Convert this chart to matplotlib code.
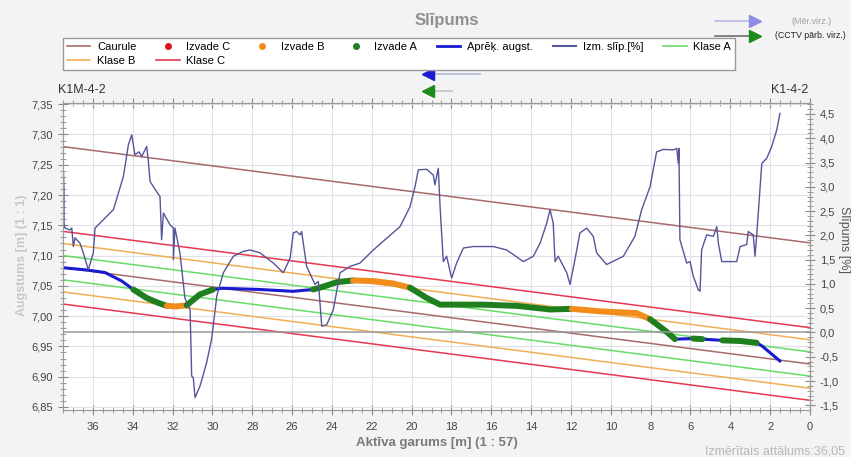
import numpy as np
import matplotlib
matplotlib.use("Agg")
import matplotlib.pyplot as plt
from matplotlib.lines import Line2D
from matplotlib.ticker import MultipleLocator, FuncFormatter

plt.rcParams['font.family'] = ['Liberation Sans', 'DejaVu Sans']

# pipe (invert level) along the active length, diameter 0.2 m
pipe_x = [37.5, 0.0]
pipe_invert = [7.080, 6.921]
pipe_diam = 0.20
# tolerance bands around the invert
klase_offsets = {'A': 0.02, 'B': 0.04, 'C': 0.06}

# calculated level (Aprēķ. augst.)
calc_x = [37.50, 36.24, 35.39, 34.55, 33.97, 33.30, 32.73, 32.29, 31.83, 31.29,
          30.62, 29.97, 29.51, 27.61, 25.95, 24.95, 24.60, 23.76, 22.94, 21.94,
          20.93, 20.08, 19.24, 18.57, 16.42, 14.72, 13.05, 11.96, 10.54, 8.70,
          8.03, 7.19, 6.78, 5.87, 5.40, 4.40, 3.51, 2.68, 2.42, 1.51]
calc_y = [7.080, 7.076, 7.072, 7.058, 7.044, 7.030, 7.022, 7.017, 7.016, 7.018,
          7.036, 7.044, 7.046, 7.044, 7.041, 7.044, 7.047, 7.056, 7.059, 7.058,
          7.054, 7.047, 7.030, 7.019, 7.019, 7.017, 7.011, 7.012, 7.008, 7.005,
          6.995, 6.974, 6.962, 6.963, 6.962, 6.960, 6.959, 6.956, 6.951, 6.926]

# deviation segments (Izvade A / B)
seg_start = [33.97, 32.29, 31.29, 24.95, 22.94, 20.08, 11.96, 8.03, 5.87, 4.40]
seg_end = [32.29, 31.29, 29.97, 22.94, 20.08, 11.96, 8.03, 6.78, 5.40, 2.68]
seg_class = ['A', 'B', 'A', 'A', 'B', 'A', 'B', 'A', 'A', 'A']

# measured slope [%]
slope_x = [37.48, 37.45, 37.45, 37.40, 37.15, 37.06, 36.98, 36.90, 36.65, 36.48,
           36.23, 35.98, 35.89, 35.48, 34.97, 34.47, 34.22, 34.05, 33.89, 33.68,
           33.55, 33.30, 33.22, 33.13, 32.80, 32.63, 32.55, 32.46, 32.13, 31.96,
           31.96, 31.88, 31.63, 31.38, 31.12, 31.04, 30.96, 30.87, 30.62, 30.29,
           30.04, 29.78, 29.45, 28.95, 28.45, 28.11, 27.61, 26.94, 26.44, 26.10,
           25.94, 25.77, 25.60, 25.52, 25.27, 24.85, 24.68, 24.51, 24.26, 23.93,
           23.59, 23.09, 22.59, 21.92, 21.25, 20.58, 20.08, 19.83, 19.66, 19.24,
           18.91, 18.83, 18.66, 18.57, 18.41, 18.24, 17.99, 17.74, 17.40, 16.90,
           15.90, 15.23, 14.39, 13.89, 13.55, 13.22, 13.05, 12.89, 12.80, 12.64,
           12.21, 12.05, 11.80, 11.55, 11.21, 10.88, 10.71, 10.21, 9.37, 8.79,
           8.45, 8.03, 7.70, 7.36, 6.86, 6.69, 6.61, 6.58, 6.53, 6.19,
           6.02, 5.86, 5.61, 5.52, 5.44, 5.19, 4.85, 4.68, 4.60, 4.43,
           3.68, 3.51, 3.18, 3.10, 2.85, 2.76, 2.68, 2.42, 2.17, 1.92,
           1.67, 1.51]
slope_v = [3.31, 2.94, 2.26, 2.15, 2.11, 2.15, 1.77, 1.95, 1.84, 1.64,
           1.29, 1.64, 2.15, 2.32, 2.53, 3.21, 3.86, 4.07, 3.66, 3.72,
           3.62, 3.83, 3.55, 3.11, 2.90, 2.80, 1.91, 2.46, 2.22, 2.15,
           1.50, 2.15, 1.64, 0.71, 0.47, -0.90, -0.93, -1.34, -1.10, -0.62,
           -0.14, 0.75, 1.23, 1.57, 1.67, 1.70, 1.64, 1.43, 1.23, 1.53,
           2.05, 2.08, 2.01, 2.08, 1.36, 0.99, 1.05, 0.13, 0.16, 0.47,
           1.23, 1.36, 1.43, 1.70, 1.94, 2.18, 2.59, 3.00, 3.35, 3.36,
           3.24, 3.04, 3.38, 2.59, 1.46, 1.57, 1.12, 1.43, 1.74, 1.77,
           1.77, 1.70, 1.46, 1.57, 1.84, 2.25, 2.53, 2.25, 1.46, 1.57,
           1.23, 0.99, 1.50, 2.05, 2.15, 1.98, 1.64, 1.40, 1.57, 1.98,
           2.53, 3.00, 3.72, 3.77, 3.76, 3.79, 3.48, 3.79, 1.91, 1.43,
           1.46, 1.16, 0.88, 0.85, 1.70, 2.01, 1.98, 2.18, 1.84, 1.46,
           1.46, 1.77, 1.81, 2.08, 2.01, 1.57, 1.98, 3.48, 3.59, 3.83,
           4.17, 4.51]

c_caurule = '#a86a6a'
c_klase = {'A': '#66dd66', 'B': '#f2ae55', 'C': '#e8384f'}
c_izvade = {'A': '#1f7f1f', 'B': '#f28c1a', 'C': '#e01020'}
c_aprek = '#1a1ad0'
c_slope = '#55559a'

fig = plt.figure(figsize=(8.51, 4.57), dpi=100, facecolor='#f3f3f3')
W, H = 851, 457
ax = fig.add_axes([63 / W, 1 - 410 / H, (810 - 63) / W, (410 - 103) / H])
ax.set_facecolor('white')

invert = np.array(pipe_invert)
for k in ['C', 'B', 'A']:
    off = klase_offsets[k]
    ax.plot(pipe_x, invert + off, color=c_klase[k], lw=1.1)
    ax.plot(pipe_x, invert - off, color=c_klase[k], lw=1.1)
ax.plot(pipe_x, invert, color=c_caurule, lw=1.1)
ax.plot(pipe_x, invert + pipe_diam, color=c_caurule, lw=1.1)

ax.plot(calc_x, calc_y, color=c_aprek, lw=2.2, zorder=4)
cx = np.array(calc_x)
cy = np.array(calc_y)
for s, e, k in zip(seg_start, seg_end, seg_class):
    m = (cx <= s) & (cx >= e)
    ax.plot(cx[m], cy[m], color=c_izvade[k], lw=4.3, solid_capstyle='round', zorder=5)

ax.set_xlim(37.5, 0)
ax.set_ylim(6.845, 7.352)
ax.xaxis.set_major_locator(MultipleLocator(2))
ax.xaxis.set_minor_locator(MultipleLocator(0.5))
ax.yaxis.set_major_locator(MultipleLocator(0.05))
ax.yaxis.set_minor_locator(MultipleLocator(0.01))
ax.yaxis.set_major_formatter(FuncFormatter(lambda v, _: f"{v:.2f}".replace('.', ',')))
ax.grid(True, which='major', color='#dfe0e8', lw=0.8)
ax.set_axisbelow(True)
ax.tick_params(which='both', direction='inout', color='#8a8a8a', labelsize=8,
               labelcolor='#444444', top=True)
ax.tick_params(which='major', length=7)
ax.tick_params(which='minor', length=4)
ax.tick_params(axis='x', pad=5)

ax2 = ax.twinx()
ax2.set_ylim((6.845 - 6.973) / 0.0802, (7.352 - 6.973) / 0.0802)
ax2.axhline(0, color='#9a9a9a', lw=1.1, zorder=1)
ax2.plot(slope_x, slope_v, color=c_slope, lw=1.0)
ax2.yaxis.set_major_locator(MultipleLocator(0.5))
ax2.yaxis.set_minor_locator(MultipleLocator(0.1))
ax2.yaxis.set_major_formatter(FuncFormatter(
    lambda v, _: f"{0.0 if abs(v) < 1e-9 else v:.1f}".replace('.', ',')))
ax2.tick_params(which='both', direction='inout', color='#8a8a8a', labelsize=8,
                labelcolor='#444444')
ax2.tick_params(which='major', length=7)
ax2.tick_params(which='minor', length=4)

for a in (ax, ax2):
    for sp in a.spines.values():
        sp.set_color('#9a9a9a')

ax.set_xlabel('Aktīva garums [m] (1 : 57)', fontsize=9.5, fontweight='bold',
              color='#7a7a7a', labelpad=4)
fig.text(22 / W, 1 - 255 / H, 'Augstums [m] (1 : 1)', rotation=90, fontsize=9,
         fontweight='bold', color='#c8c8c8', ha='center', va='center')
fig.text(844 / W, 1 - 240 / H, 'Slīpums [%]', rotation=270, fontsize=9,
         color='#555555', ha='center', va='center')

fig.text(447 / W, 1 - 20 / H, 'Slīpums', fontsize=12, fontweight='bold',
         color='#8f8f8f', ha='center', va='center')
fig.text(58 / W, 1 - 90 / H, 'K1M-4-2', fontsize=9, color='#333333', va='center')
fig.text(808 / W, 1 - 90 / H, 'K1-4-2', fontsize=9, color='#333333', va='center', ha='right')
fig.text(705 / W, 2 / H, 'Izmērītais attālums:36,05', fontsize=9, color='#b8b8b8')


def px(x, y):
    return x / W, 1 - y / H


def arrow(x0, x1, y, line_c, head_c, head):
    (a0, b0), (a1, b1) = px(x0, y), px(x1, y)
    fig.add_artist(Line2D([a0, a1], [b0, b1], color=line_c, lw=1.2,
                          transform=fig.transFigure))
    hx = a1 if head == '>' else a0
    fig.add_artist(Line2D([hx], [b0], marker=head, ms=8, color=head_c, lw=0,
                          transform=fig.transFigure))


arrow(715, 755, 21, '#b8b8e8', '#8c8ce6', '>')
arrow(715, 755, 36, '#707070', '#1c8a1c', '>')
arrow(428, 480, 74, '#b0b8d8', '#1a1ad0', '<')
arrow(428, 452, 91, '#b8c8b8', '#1c8a1c', '<')
fig.text(792 / W, 1 - 21 / H, '(Mēr.virz.)', fontsize=6.5, color='#a0a0a0', va='center')
fig.text(775 / W, 1 - 36 / H, '(CCTV pārb. virz.)', fontsize=6.3, color='#222222', va='center')

# legend (column-major order so rows read left to right)
h = {
    'Caurule': Line2D([], [], color=c_caurule, lw=1.2),
    'Izvade C': Line2D([], [], color=c_izvade['C'], marker='o', ms=4, lw=0),
    'Izvade B': Line2D([], [], color=c_izvade['B'], marker='o', ms=4, lw=0),
    'Izvade A': Line2D([], [], color=c_izvade['A'], marker='o', ms=4, lw=0),
    'Aprēķ. augst.': Line2D([], [], color=c_aprek, lw=2),
    'Izm. slīp.[%]': Line2D([], [], color=c_slope, lw=1.5),
    'Klase A': Line2D([], [], color=c_klase['A'], lw=1.2),
    'Klase B': Line2D([], [], color=c_klase['B'], lw=1.2),
    'Klase C': Line2D([], [], color=c_klase['C'], lw=1.2),
}
order = ['Caurule', 'Klase B', 'Izvade C', 'Klase C', 'Izvade B', 'Izvade A',
         'Aprēķ. augst.', 'Izm. slīp.[%]', 'Klase A']
lx0, ly0 = px(63, 70)
lx1, ly1 = px(735, 42)
leg = fig.legend([h[k] for k in order], order, ncol=7, mode='expand',
                 bbox_to_anchor=(lx0, ly0, lx1 - lx0, ly1 - ly0), loc='lower left',
                 fontsize=8, frameon=True, fancybox=False, edgecolor='#9a9a9a',
                 facecolor='white', framealpha=1, handlelength=2.1,
                 borderaxespad=0, borderpad=0.35, labelspacing=0.35,
                 handletextpad=0.6, columnspacing=0.5)
leg.get_frame().set_linewidth(1.0)

fig.savefig('out.png', dpi=100, facecolor=fig.get_facecolor())
